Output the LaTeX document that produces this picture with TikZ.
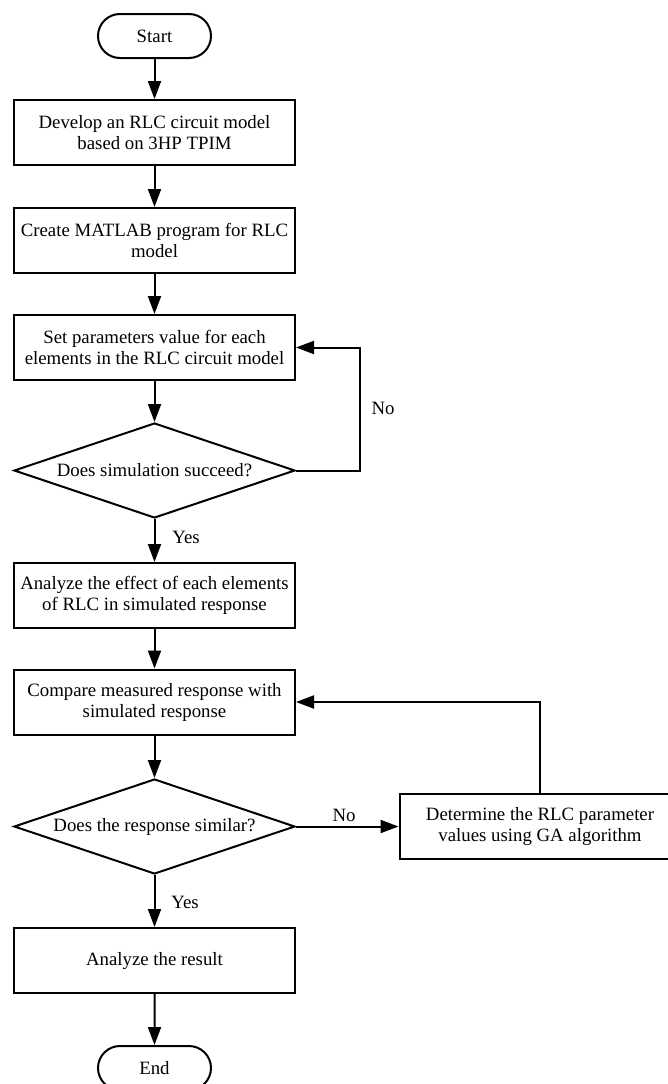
\documentclass[tikz,border=0pt]{standalone}
\usepackage{fontspec}
\setmainfont{Liberation Serif}
\usetikzlibrary{shapes.geometric,shapes.misc,arrows.meta}
\tikzset{
  base/.style={draw=black, line width=2pt, inner sep=0pt, align=center,
    font=\fontsize{18.8pt}{21pt}\selectfont},
  procbox/.style={base, rectangle, minimum width=281pt, minimum height=65pt},
  decision/.style={base, diamond, aspect=2.96, minimum width=281pt, minimum height=95pt},
  terminal/.style={base, rounded rectangle, minimum width=113pt, minimum height=44pt},
  flow/.style={line width=2pt, -{Triangle[length=18pt,width=13pt]}},
  lbl/.style={font=\fontsize{18.8pt}{21pt}\selectfont, inner sep=0pt}
}
\begin{document}
\begin{tikzpicture}[x=1pt,y=-1pt]
\useasboundingbox (0,0) rectangle (668,1084);
\clip (0,0) rectangle (668,1084);
\node[terminal] (start) at (154.5,36) {Start};
\node[procbox] (b1) at (154.5,132.5) {Develop an RLC circuit model\\based on 3HP TPIM};
\node[procbox] (b2) at (154.5,240.5) {Create MATLAB program for RLC\\model};
\node[procbox] (b3) at (154.5,347.5) {Set parameters value for each\\elements in the RLC circuit model};
\node[decision] (d1) at (154.5,470.5) {Does simulation succeed?};
\node[procbox] (b4) at (154.5,595.5) {Analyze the effect of each elements\\of RLC in simulated response};
\node[procbox] (b5) at (154.5,702) {Compare measured response with\\simulated response};
\node[decision] (d2) at (154.5,826.5) {Does the response similar?};
\node[procbox] (ga) at (540,826.5) {Determine the RLC parameter\\values using GA algorithm};
\node[procbox] (b6) at (154.5,960.5) {Analyze the result};
\node[terminal] (end) at (154.5,1068) {End};
\coordinate (c1) at (360,470.5);
\coordinate (c2) at (360,347.5);
\coordinate (c3) at (540,702);

\draw[flow] (start) -- (b1);
\draw[flow] (b1) -- (b2);
\draw[flow] (b2) -- (b3);
\draw[flow] (b3) -- (d1);
\draw[flow] (d1) -- (b4);
\draw[flow] (b4) -- (b5);
\draw[flow] (b5) -- (d2);
\draw[flow] (d2) -- (b6);
\draw[flow] (b6) -- (end);
\draw[flow] (d1.east) -- (c1) -- (c2) -- (b3.east);
\draw[flow] (d2.east) -- (ga.west);
\draw[flow] (ga.north) -- (c3) -- (b5.east);

\node[lbl] (no1) at (383,408) {No};
\node[lbl] (yes1) at (186,537) {Yes};
\node[lbl] (no2) at (344,815) {No};
\node[lbl] (yes2) at (185,902) {Yes};
\end{tikzpicture}
\end{document}
